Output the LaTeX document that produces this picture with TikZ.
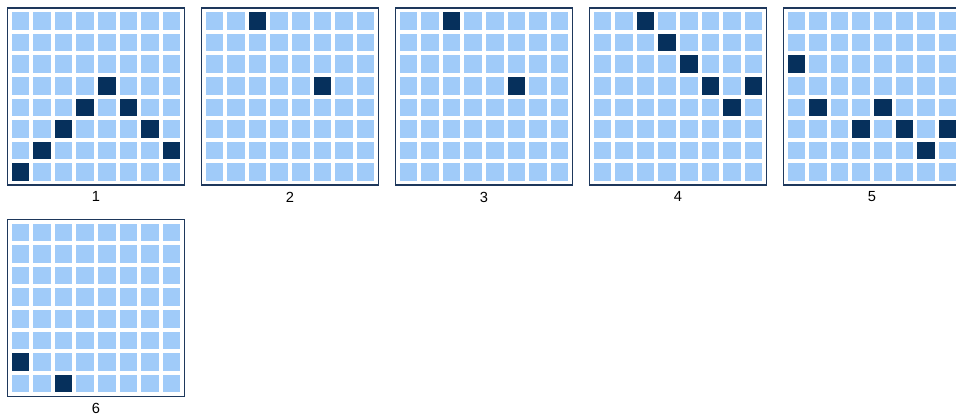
\documentclass[tikz,border=0pt]{standalone}
\usepackage{fontspec}
\setmainfont{Liberation Sans}
\usepackage{xcolor}
\usepackage{tikz}
\usetikzlibrary{positioning}
\definecolor{cellblue}{RGB}{160, 203, 249}
\definecolor{cellnavy}{RGB}{6, 48, 92}
\definecolor{framenavy}{RGB}{30, 56, 92}

\tikzset{
    gridframe/.style={draw=framenavy, line width=0.9pt, fill=white,
        minimum width=132.75pt, minimum height=132.75pt, inner sep=0pt},
    cellbox/.style={fill=cellblue, minimum size=13.2pt, inner sep=0pt},
    cellon/.style={fill=cellnavy},
    gridlabel/.style={inner sep=0pt, font=\fontsize{11}{13}\selectfont}
}

\begin{document}
\begin{tikzpicture}[x=0.75pt, y=-0.75pt]
    \useasboundingbox (0,0) rectangle (956,418);
    % six 8x8 boards: number / centre x / centre y / dark cells (row/col)
    \foreach \g/\gx/\gy/\marks in {
        1/96/96.5/{3/4,4/3,4/5,5/2,5/6,6/1,6/7,7/0},
        2/290/96.5/{0/2,3/5},
        3/484/96.5/{0/2,3/5},
        4/678/96.5/{0/2,1/3,2/4,3/5,3/7,4/6},
        5/872/96.5/{2/0,4/1,4/4,5/3,5/5,5/7,6/6},
        6/96/308/{6/0,7/2}} {
        \node[gridframe] (board\g) at (\gx,\gy) {};
        \foreach \r in {0,...,7}
            \foreach \c in {0,...,7}
                \node[cellbox] (board\g-\r-\c) at ({\gx+(\c-3.5)*21.6}, {\gy+(\r-3.5)*21.6}) {};
        \foreach \r/\c in \marks
            \node[cellbox, cellon] at (board\g-\r-\c) {};
        \node[gridlabel, below=4.5pt of board\g] (label\g) {\g};
    }
\end{tikzpicture}
\end{document}
